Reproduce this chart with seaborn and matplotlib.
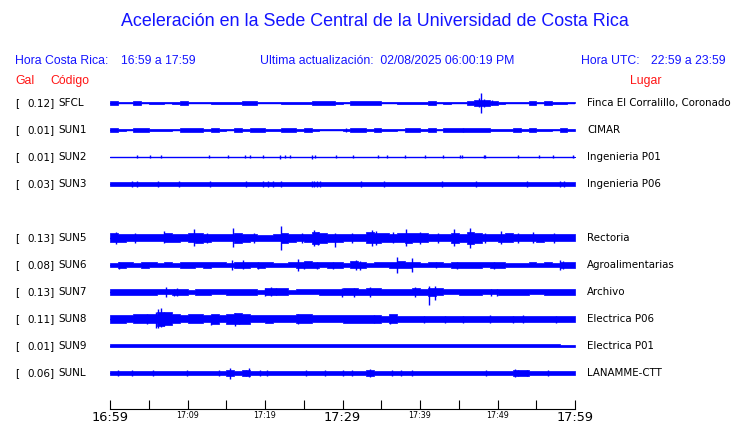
import numpy as np
import pandas as pd
import matplotlib
matplotlib.use("Agg")
import matplotlib.pyplot as plt
import seaborn as sns
from matplotlib import transforms

# station info
codes = ["SFCL", "SUN1", "SUN2", "SUN3", "SUN5", "SUN6", "SUN7", "SUN8", "SUN9", "SUNL"]
rows = [0, 1, 2, 3, 5, 6, 7, 8, 9, 10]
gal = [0.12, 0.01, 0.01, 0.03, 0.13, 0.08, 0.13, 0.11, 0.01, 0.06]
places = ["Finca El Corralillo, Coronado", "CIMAR", "Ingenieria P01", "Ingenieria P06",
          "Rectoria", "Agroalimentarias", "Archivo", "Electrica P06", "Electrica P01",
          "LANAMME-CTT"]

tick_minutes = list(range(0, 61, 5))
tick_labels = ["16:59", "", "17:09", "", "17:19", "", "17:29", "", "17:39", "", "17:49", "", "17:59"]

# envelope of each trace, one value per minute (half height, screen units)
env_sfcl = [1.6, 0.5, 0.5, 2.0, 0.5, 1.4, 1.4, 0.5, 1.4, 2.2, 0.5, 0.5, 0.5, 1.4, 1.4, 1.4,
            1.4, 2.0, 2.0, 0.5, 0.5, 0.5, 1.4, 1.4, 1.4, 1.4, 2.4, 2.4, 2.2, 1.4, 0.5, 2.2,
            2.2, 2.2, 2.0, 0.5, 0.5, 1.4, 1.4, 1.4, 1.4, 2.0, 0.5, 1.4, 0.5, 0.5, 2.0, 3.0,
            3.0, 2.2, 1.4, 0.5, 0.5, 0.5, 2.2, 0.5, 2.0, 1.4, 1.4, 0.5]
env_sun1 = [1.8, 1.4, 0.5, 1.8, 1.8, 1.4, 1.4, 1.4, 0.5, 1.8, 1.8, 1.8, 1.4, 1.8, 1.4, 0.5,
            1.8, 1.4, 1.8, 1.8, 1.4, 1.4, 1.8, 1.8, 1.4, 1.8, 1.4, 0.5, 0.5, 0.5, 1.4, 1.8,
            1.8, 1.4, 1.8, 1.4, 1.4, 0.5, 1.8, 1.8, 1.4, 1.8, 0.5, 1.8, 1.8, 1.8, 1.8, 1.8,
            1.8, 1.4, 1.4, 1.4, 1.8, 1.4, 1.8, 1.4, 1.4, 0.5, 1.8, 1.4]
env_sun2 = [0.4] * 60
env_sun3 = [1.9] * 60
env_sun5 = [4.5, 4.0, 3.5, 3.5, 3.5, 3.5, 3.5, 4.5, 4.0, 3.5, 4.5, 5.0, 4.0, 3.5, 3.5, 3.5,
            5.0, 4.0, 3.5, 3.0, 3.0, 3.5, 5.0, 4.0, 3.5, 4.0, 6.0, 5.0, 4.0, 4.0, 3.5, 3.5,
            3.5, 5.5, 5.0, 4.5, 4.0, 4.5, 5.0, 4.5, 4.5, 3.5, 3.5, 3.5, 5.0, 4.0, 6.0, 5.0,
            3.5, 3.5, 4.0, 4.5, 3.5, 3.5, 3.5, 4.0, 3.5, 3.5, 3.5, 3.5]
env_sun6 = [2.0, 3.0, 2.5, 2.0, 3.0, 2.5, 2.0, 2.5, 2.0, 3.0, 3.0, 2.5, 3.0, 2.5, 2.5, 2.2,
            3.0, 3.0, 2.5, 3.0, 2.5, 2.0, 2.0, 2.5, 3.0, 3.5, 3.0, 2.5, 3.0, 3.0, 2.0, 3.5,
            3.0, 2.0, 2.5, 2.5, 3.0, 3.5, 3.0, 2.5, 2.0, 2.5, 2.5, 2.0, 3.0, 3.0, 3.0, 3.0,
            2.5, 3.0, 3.0, 2.0, 2.0, 2.0, 2.5, 2.0, 2.5, 2.0, 3.0, 3.0]
env_sun7 = [3.0, 3.0, 3.0, 3.0, 3.0, 3.0, 2.5, 2.5, 3.0, 3.0, 2.2, 3.0, 3.0, 2.5, 2.5, 3.0,
            3.0, 3.0, 3.0, 2.2, 3.5, 3.5, 3.5, 2.2, 2.5, 2.5, 2.5, 3.0, 3.0, 3.0, 3.5, 3.5,
            3.0, 3.5, 3.5, 3.0, 3.0, 3.0, 3.0, 3.5, 3.0, 4.0, 3.5, 2.5, 2.5, 3.0, 3.0, 3.0,
            2.5, 2.5, 3.0, 3.0, 3.0, 3.0, 2.5, 2.5, 3.0, 3.0, 3.0, 3.0]
env_sun8 = [4.0, 4.0, 3.5, 4.5, 4.5, 4.5, 7.0, 6.5, 4.5, 3.5, 4.5, 4.5, 3.5, 5.0, 3.5, 5.0,
            5.5, 5.0, 3.5, 3.5, 4.0, 3.5, 3.5, 3.5, 4.5, 4.5, 3.5, 3.5, 3.5, 3.5, 4.0, 4.0,
            4.0, 4.0, 4.0, 3.0, 4.5, 3.0, 3.0, 3.0, 3.0, 3.0, 3.0, 3.0, 3.0, 3.0, 3.0, 3.0,
            3.0, 3.0, 3.0, 3.0, 3.0, 3.0, 3.0, 3.0, 3.0, 3.0, 3.0, 3.0]
env_sun9 = [1.5] * 58 + [1.0, 1.0]
env_sunl = [2.0] * 15 + [2.7, 2.0, 2.7] + [2.0] * 15 + [2.5] + [2.0] * 18 + [2.6, 2.5] + [2.0] * 6

# isolated spikes: (minute, up, down)
spk_sfcl = [(47.6, 5, 4), (47.9, 10, 10), (48.3, 4, 4), (49.3, 3, 2)]
spk_sun1 = [(30.4, 1.8, 1.8), (45.6, 1.8, 1.8)]
spk_sun2 = [(3.5, 1.5, 1.5), (5.1, 1.5, 1.5), (6.6, 1.5, 1.5), (12.8, 1.5, 1.5), (15.2, 1.5, 1.5),
            (17.4, 1.5, 1.5), (18.1, 1.5, 1.5), (19.8, 1.5, 1.5), (21.9, 2, 2), (22.6, 1.5, 1.5),
            (23.2, 1.5, 1.5), (26.0, 1.8, 1.8), (26.5, 1.5, 1.5), (29.2, 1.5, 1.5), (31.4, 1.5, 1.5),
            (34.6, 1.5, 1.5), (35.7, 1.5, 1.5), (38.1, 1.5, 1.5), (40.6, 1.5, 1.5), (43.0, 1.5, 1.5),
            (45.2, 1.5, 1.5), (45.4, 1.5, 1.5), (48.2, 1.5, 1.5), (48.4, 1.5, 1.5), (52.7, 1.5, 1.5),
            (55.3, 1.5, 1.5), (57.2, 1.5, 1.5), (59.8, 1.5, 1.5)]
spk_sun3 = [(2.9, 3, 3), (3.5, 3, 3), (6.2, 3, 3), (8.9, 3, 3), (12.9, 3, 3), (17.6, 3, 3),
            (19.8, 3, 3), (20.4, 3, 3), (21.0, 3, 3), (22.0, 3, 3), (26.0, 3, 3), (26.3, 3, 3),
            (26.7, 3, 3), (27.1, 3, 3), (32.4, 3, 3), (35.3, 3, 3), (42.9, 3, 3), (47.2, 3, 3),
            (53.8, 3, 3), (58.1, 3, 3), (58.6, 3, 3)]
spk_sun5 = [(0.8, 6, 6), (7.0, 6.5, 5.5), (10.9, 8.5, 8), (15.9, 9.5, 9), (22.0, 12, 12),
            (26.3, 8, 8), (26.8, 6, 7), (29.0, 5, 9), (33.8, 8, 8), (34.3, 7, 7), (38.2, 9, 8),
            (40.0, 6, 6), (44.4, 8.5, 8), (46.4, 10, 10), (50.5, 6.5, 6), (54.6, 6, 5),
            (3.2, 5, 5), (12.5, 5, 5.5), (18.6, 5, 5), (24.8, 5, 5), (31.2, 5, 5), (36.5, 5.5, 5),
            (42.3, 5, 5), (48.4, 5, 5), (52.6, 5, 5), (57.3, 5, 5)]
spk_sun6 = [(1.2, 3.5, 3.5), (15.7, 4.5, 4.5), (17.1, 4.5, 4), (19.1, 3, 4), (24.3, 6, 6),
            (25.0, 3.5, 3.5), (26.7, 3.5, 3.5), (28.8, 3, 3.5), (31.7, 4.5, 4.5), (32.2, 4, 4.5),
            (37.0, 8, 8), (39.0, 7, 7), (42.0, 3, 3), (44.8, 3, 3.5), (49.5, 3, 3.5),
            (58.1, 4.5, 5), (58.4, 4, 4)]
spk_sun7 = [(7.2, 5, 5.5), (8.2, 3.5, 4), (8.6, 4, 4), (20.0, 4, 3.5), (20.8, 5, 4), (21.4, 4, 3),
            (29.9, 4.5, 4.5), (31.5, 4, 5), (33.5, 5, 5), (39.4, 5, 5), (41.2, 6.5, 13),
            (41.9, 6, 7.5), (49.2, 3.5, 4), (49.9, 3.5, 3.5)]
spk_sun8 = [(4.8, 5, 5), (5.9, 7, 8.5), (6.2, 10, 9.5), (6.6, 11, 8), (7.0, 7, 7), (13.0, 4.5, 6),
            (16.1, 6, 6.5), (16.7, 5.5, 5), (24.3, 5, 5), (34.0, 4.5, 4.5), (36.1, 4.5, 5),
            (40.5, 3.5, 3.5), (43.2, 3.5, 3.5), (45.5, 3.5, 3.5), (49.0, 4, 4), (52.0, 3.5, 3.5),
            (53.3, 4, 4), (57.5, 3.5, 3.5)]
spk_sun9 = []
spk_sunl = [(15.5, 5, 5.5), (17.6, 3, 3), (17.9, 5, 3.5), (30.1, 3, 3), (33.6, 4, 4), (37.6, 3, 3),
            (52.3, 4, 3.5), (52.7, 3, 3), (53.8, 3, 3), (1.0, 2.5, 2.5), (2.8, 2.5, 2.5),
            (5.5, 2.5, 2.5), (9.9, 2.5, 2.5), (14.0, 2.5, 2.5), (19.3, 2.5, 2.5), (20.2, 2.5, 2.5),
            (25.3, 2.5, 2.5), (27.8, 2.5, 2.5), (31.2, 2.5, 2.5), (36.4, 2.5, 2.5), (39.0, 2.5, 2.5),
            (48.5, 2.5, 2.5), (56.5, 2.5, 2.5)]

envs = [env_sfcl, env_sun1, env_sun2, env_sun3, env_sun5, env_sun6, env_sun7, env_sun8, env_sun9, env_sunl]
spikes = [spk_sfcl, spk_sun1, spk_sun2, spk_sun3, spk_sun5, spk_sun6, spk_sun7, spk_sun8, spk_sun9, spk_sunl]

BLUE = "#0000ff"
TXT_BLUE = "#1414ff"
RED = "#ff1414"
W, H = 740, 423
ROW = 27.0  # screen units per row

sns.set_style("white")
plt.rcParams["font.family"] = ["DejaVu Sans"]
plt.rcParams["text.color"] = "black"

fig = plt.figure(figsize=(W / 100, H / 100), dpi=100)
ax = fig.add_axes([110 / W, 14 / H, 465 / W, 319 / H])

# base lines through seaborn
lines = pd.DataFrame({
    "code": np.repeat(codes, 2),
    "minute": [0, 60] * len(codes),
    "row": np.repeat(rows, 2),
})
sns.lineplot(data=lines, x="minute", y="row", units="code", estimator=None,
             color=BLUE, lw=1, ax=ax, legend=False)

t_edges = np.arange(61)
for code, y0, e, spk in zip(codes, rows, envs, spikes):
    e = np.array(e + [e[-1]]) / ROW
    ax.fill_between(t_edges, y0 - e, y0 + e, step="post", facecolor=BLUE,
                    edgecolor=BLUE, lw=0.5)
    if spk:
        s = pd.DataFrame(spk, columns=["minute", "up", "down"])
        ax.vlines(s["minute"], y0 - s["up"] / ROW, y0 + s["down"] / ROW, color=BLUE, lw=1)

ax.set_xlim(0, 60)
ax.set_ylim((409 - 103) / ROW, (90 - 103) / ROW)
ax.set_xticks(tick_minutes)
ax.set_xticklabels(tick_labels)
for lab in ax.get_xticklabels():
    lab.set_fontsize(9.3 if lab.get_text() in ("16:59", "17:29", "17:59") else 5.8)
ax.tick_params(axis="x", bottom=True, direction="in", length=6.5, width=0.8, pad=1.3,
               colors="black")
ax.set_yticks([])
ax.set_xlabel("")
ax.set_ylabel("")
for side in ["top", "left", "right"]:
    ax.spines[side].set_visible(False)
ax.spines["bottom"].set_color("black")
ax.spines["bottom"].set_linewidth(0.8)

# row labels
trans = transforms.blended_transform_factory(fig.transFigure, ax.transData)
for code, y0, g, place in zip(codes, rows, gal, places):
    ax.text(15 / W, y0, "[", transform=trans, ha="left", va="center", fontsize=7.5, color="black")
    ax.text(55 / W, y0, f"{g:.2f}]", transform=trans, ha="right", va="center", fontsize=7.5,
            color="black")
    ax.text(58 / W, y0, code, transform=trans, ha="left", va="center", fontsize=7.5, color="black")
    ax.text(587 / W, y0, place, transform=trans, ha="left", va="center", fontsize=7.4,
            color="black")

# header
hdr = dict(family="Liberation Sans", va="center")
fig.text(375 / W, 1 - 22 / H, "Aceleración en la Sede Central de la Universidad de Costa Rica",
         ha="center", color=TXT_BLUE, fontsize=12.85, **hdr)
fig.text(15 / W, 1 - 61 / H, "Hora Costa Rica:", color=TXT_BLUE, fontsize=8.85, **hdr)
fig.text(121 / W, 1 - 61 / H, "16:59 a 17:59", color=TXT_BLUE, fontsize=8.85, **hdr)
fig.text(260 / W, 1 - 61 / H, "Ultima actualización:  02/08/2025 06:00:19 PM",
         color=TXT_BLUE, fontsize=8.85, **hdr)
fig.text(581 / W, 1 - 61 / H, "Hora UTC:", color=TXT_BLUE, fontsize=8.85, **hdr)
fig.text(651 / W, 1 - 61 / H, "22:59 a 23:59", color=TXT_BLUE, fontsize=8.85, **hdr)
fig.text(15 / W, 1 - 81 / H, "Gal", color=RED, fontsize=8.85, **hdr)
fig.text(50 / W, 1 - 81 / H, "Código", color=RED, fontsize=8.85, **hdr)
fig.text(630 / W, 1 - 81 / H, "Lugar", color=RED, fontsize=8.85, **hdr)

fig.savefig("out.png", dpi=100, facecolor="white")
